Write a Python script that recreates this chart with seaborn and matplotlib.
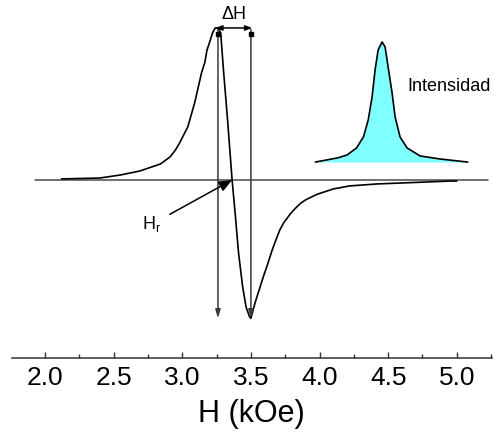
import matplotlib
matplotlib.use("Agg")
import matplotlib.pyplot as plt
from matplotlib.ticker import MultipleLocator
import pandas as pd
import seaborn as sns

# First-derivative EPR signal (arbitrary units) versus applied field H (kOe)
field_koe = [2.12, 2.40, 2.55, 2.69, 2.84, 2.91, 2.95, 2.98, 3.01, 3.04, 3.065, 3.09,
             3.115, 3.14, 3.165, 3.18, 3.20, 3.22, 3.24, 3.26, 3.28, 3.30, 3.33,
             3.363, 3.385, 3.41, 3.44, 3.465, 3.49, 3.50, 3.53, 3.59, 3.62, 3.655,
             3.68, 3.71, 3.74, 3.79, 3.82, 3.86, 3.90, 3.98, 4.10, 4.22, 4.42,
             4.59, 4.95, 5.00]
dpph_signal = [0.007, 0.013, 0.033, 0.059, 0.105, 0.151, 0.197, 0.243, 0.296, 0.349,
               0.428, 0.507, 0.605, 0.704, 0.776, 0.855, 0.908, 0.967, 1.0, 1.0,
               0.967, 0.724, 0.395, 0.0, -0.217, -0.48, -0.704, -0.836, -0.90,
               -0.91, -0.809, -0.638, -0.559, -0.461, -0.40, -0.33, -0.28,
               -0.22, -0.19, -0.155, -0.13, -0.095, -0.059, -0.039, -0.026,
               -0.02, -0.007, -0.007]

# Integrated absorption line (inset sketch)
abs_field = [3.97, 4.13, 4.20, 4.27, 4.32, 4.355, 4.383, 4.405, 4.427, 4.456, 4.478,
             4.50, 4.529, 4.551, 4.587, 4.638, 4.733, 4.879, 5.08]
abs_intensity = [0.118, 0.145, 0.164, 0.211, 0.283, 0.395, 0.546, 0.724, 0.855, 0.908,
                 0.875, 0.743, 0.572, 0.414, 0.283, 0.211, 0.158, 0.138, 0.118]
abs_base = 0.118

# Characteristic fields
h_peak = 3.26      # positive extremum
h_trough = 3.50    # negative extremum
h_res = 3.363      # zero crossing (resonance field)
baseline_span = [1.93, 5.23]
x_ticks = [2.0, 2.5, 3.0, 3.5, 4.0, 4.5, 5.0]

sns.set_style("white")
plt.rcParams["font.family"] = ["Liberation Sans", "DejaVu Sans"]
plt.rcParams["text.color"] = "black"
plt.rcParams["axes.labelcolor"] = "black"
plt.rcParams["xtick.color"] = "black"

fig = plt.figure(figsize=(4.94, 4.45), dpi=100)
ax = fig.add_axes([0.0237, 0.1955, 0.972, 0.8045])

deriv = pd.DataFrame({"H": field_koe, "signal": dpph_signal})
absorb = pd.DataFrame({"H": abs_field, "I": abs_intensity})

# zero line
ax.plot(baseline_span, [0, 0], color="#4a4a4a", lw=1.1, zorder=1)

sns.lineplot(data=deriv, x="H", y="signal", ax=ax, color="black", lw=1.2,
             sort=False, zorder=3)

ax.fill_between(abs_field, abs_base, abs_intensity, color="#80ffff", lw=0, zorder=2)
sns.lineplot(data=absorb, x="H", y="I", ax=ax, color="black", lw=1.2,
             sort=False, zorder=3)
ax.text(4.638, 0.612, "Intensidad", fontsize=13, ha="left", va="center")

y_top = max(dpph_signal)
y_bot = min(dpph_signal)
line_col = "#3a3a3a"
for hx in (h_peak, h_trough):
    ax.annotate("", xy=(hx, y_bot), xytext=(hx, y_top - 0.01),
                arrowprops=dict(arrowstyle="-|>,head_length=0.5,head_width=0.15",
                                color=line_col, lw=1.1, shrinkA=0, shrinkB=0))
    ax.plot([hx], [y_top - 0.04], marker="s", ms=3.5, color="black", zorder=4)

ax.annotate("", xy=(h_trough + 0.01, y_top), xytext=(h_peak - 0.02, y_top),
            arrowprops=dict(arrowstyle="<|-|>,head_length=0.4,head_width=0.15",
                            color="black", lw=1.1, shrinkA=0, shrinkB=0))
ax.text((h_peak + h_trough) / 2, 1.09, "ΔH", fontsize=13, ha="center", va="center")

ax.annotate("H$_\\mathregular{r}$", xy=(h_res, 0.0), xytext=(2.78, -0.29),
            fontsize=13, ha="center", va="center",
            arrowprops=dict(arrowstyle="-|>,head_length=0.6,head_width=0.25",
                            color="black", lw=1.1, shrinkA=4, shrinkB=0))

ax.set_xlim(1.757, 5.256)
ax.set_ylim(-1.171, 1.184)
for side in ("left", "top", "right"):
    ax.spines[side].set_visible(False)
ax.spines["bottom"].set_color("#333333")
ax.spines["bottom"].set_linewidth(1.1)
ax.set_yticks([])
ax.set_xticks(x_ticks)
ax.set_xticklabels([f"{t:.1f}" for t in x_ticks])
ax.xaxis.set_minor_locator(MultipleLocator(0.25))
ax.tick_params(axis="x", which="both", bottom=True, direction="in", width=1.0,
               color="#333333")
ax.tick_params(axis="x", which="major", length=4.5, labelsize=19, pad=6,
               labelcolor="black")
ax.tick_params(axis="x", which="minor", length=2.6)
ax.set_xlabel("H (kOe)", fontsize=22, labelpad=6, color="black")
ax.set_ylabel("")

fig.savefig("out.png", dpi=100)
